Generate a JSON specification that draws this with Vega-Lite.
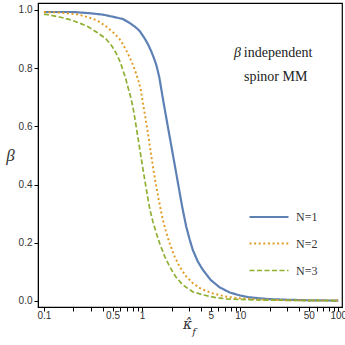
{
  "$schema": "https://vega.github.io/schema/vega-lite/v6.json",
  "width": 304,
  "height": 304,
  "autosize": "none",
  "padding": {"left": 38, "top": 3, "right": 3, "bottom": 38},
  "background": "white",
  "config": {
    "view": {"stroke": "black", "strokeWidth": 1.2},
    "axis": {"grid": false, "domainColor": "black", "tickColor": "black", "labelColor": "#333", "labelFont": "Liberation Sans", "labelFontSize": 10, "labelFlush": false, "tickWidth": 1}
  },
  "datasets": {
    "curves": [
      {"k": 0.1, "beta": 0.993, "N": "N=1"}, {"k": 0.15, "beta": 0.993, "N": "N=1"}, {"k": 0.2, "beta": 0.993, "N": "N=1"}, {"k": 0.29, "beta": 0.989, "N": "N=1"}, {"k": 0.4, "beta": 0.984, "N": "N=1"}, {"k": 0.5, "beta": 0.977, "N": "N=1"}, {"k": 0.637, "beta": 0.969, "N": "N=1"}, {"k": 0.75, "beta": 0.955, "N": "N=1"}, {"k": 0.85, "beta": 0.942, "N": "N=1"}, {"k": 0.944, "beta": 0.928, "N": "N=1"}, {"k": 1.05, "beta": 0.905, "N": "N=1"}, {"k": 1.15, "beta": 0.882, "N": "N=1"}, {"k": 1.24, "beta": 0.858, "N": "N=1"}, {"k": 1.32, "beta": 0.835, "N": "N=1"}, {"k": 1.4, "beta": 0.81, "N": "N=1"}, {"k": 1.5, "beta": 0.768, "N": "N=1"}, {"k": 1.57, "beta": 0.728, "N": "N=1"}, {"k": 1.65, "beta": 0.685, "N": "N=1"}, {"k": 1.74, "beta": 0.641, "N": "N=1"}, {"k": 1.82, "beta": 0.604, "N": "N=1"}, {"k": 1.9, "beta": 0.569, "N": "N=1"}, {"k": 2.05, "beta": 0.507, "N": "N=1"}, {"k": 2.25, "beta": 0.431, "N": "N=1"}, {"k": 2.47, "beta": 0.354, "N": "N=1"}, {"k": 2.6, "beta": 0.313, "N": "N=1"}, {"k": 2.82, "beta": 0.255, "N": "N=1"}, {"k": 3.05, "beta": 0.212, "N": "N=1"}, {"k": 3.29, "beta": 0.175, "N": "N=1"}, {"k": 3.7, "beta": 0.135, "N": "N=1"}, {"k": 4.16, "beta": 0.107, "N": "N=1"}, {"k": 5.0, "beta": 0.072, "N": "N=1"}, {"k": 6.15, "beta": 0.047, "N": "N=1"}, {"k": 7.8, "beta": 0.029, "N": "N=1"}, {"k": 9.85, "beta": 0.019, "N": "N=1"}, {"k": 12, "beta": 0.013, "N": "N=1"}, {"k": 15.7, "beta": 0.009, "N": "N=1"}, {"k": 20, "beta": 0.006, "N": "N=1"}, {"k": 30, "beta": 0.004, "N": "N=1"}, {"k": 50, "beta": 0.002, "N": "N=1"}, {"k": 100, "beta": 0.001, "N": "N=1"},
      {"k": 0.1, "beta": 0.993, "N": "N=2"}, {"k": 0.15, "beta": 0.991, "N": "N=2"}, {"k": 0.22, "beta": 0.985, "N": "N=2"}, {"k": 0.29, "beta": 0.974, "N": "N=2"}, {"k": 0.352, "beta": 0.963, "N": "N=2"}, {"k": 0.431, "beta": 0.943, "N": "N=2"}, {"k": 0.52, "beta": 0.92, "N": "N=2"}, {"k": 0.59, "beta": 0.9, "N": "N=2"}, {"k": 0.65, "beta": 0.877, "N": "N=2"}, {"k": 0.71, "beta": 0.853, "N": "N=2"}, {"k": 0.746, "beta": 0.838, "N": "N=2"}, {"k": 0.81, "beta": 0.81, "N": "N=2"}, {"k": 0.873, "beta": 0.78, "N": "N=2"}, {"k": 0.93, "beta": 0.75, "N": "N=2"}, {"k": 0.973, "beta": 0.724, "N": "N=2"}, {"k": 1.025, "beta": 0.675, "N": "N=2"}, {"k": 1.08, "beta": 0.632, "N": "N=2"}, {"k": 1.15, "beta": 0.574, "N": "N=2"}, {"k": 1.24, "beta": 0.5, "N": "N=2"}, {"k": 1.35, "beta": 0.42, "N": "N=2"}, {"k": 1.48, "beta": 0.347, "N": "N=2"}, {"k": 1.54, "beta": 0.318, "N": "N=2"}, {"k": 1.63, "beta": 0.278, "N": "N=2"}, {"k": 1.75, "beta": 0.24, "N": "N=2"}, {"k": 1.91, "beta": 0.198, "N": "N=2"}, {"k": 2.15, "beta": 0.152, "N": "N=2"}, {"k": 2.41, "beta": 0.118, "N": "N=2"}, {"k": 2.8, "beta": 0.085, "N": "N=2"}, {"k": 3.29, "beta": 0.061, "N": "N=2"}, {"k": 4.0, "beta": 0.041, "N": "N=2"}, {"k": 5.25, "beta": 0.026, "N": "N=2"}, {"k": 7, "beta": 0.015, "N": "N=2"}, {"k": 9.85, "beta": 0.009, "N": "N=2"}, {"k": 15, "beta": 0.005, "N": "N=2"}, {"k": 30, "beta": 0.002, "N": "N=2"}, {"k": 100, "beta": 0.001, "N": "N=2"},
      {"k": 0.1, "beta": 0.986, "N": "N=3"}, {"k": 0.14, "beta": 0.977, "N": "N=3"}, {"k": 0.188, "beta": 0.966, "N": "N=3"}, {"k": 0.235, "beta": 0.954, "N": "N=3"}, {"k": 0.279, "beta": 0.943, "N": "N=3"}, {"k": 0.352, "beta": 0.922, "N": "N=3"}, {"k": 0.43, "beta": 0.9, "N": "N=3"}, {"k": 0.49, "beta": 0.877, "N": "N=3"}, {"k": 0.546, "beta": 0.851, "N": "N=3"}, {"k": 0.6, "beta": 0.82, "N": "N=3"}, {"k": 0.637, "beta": 0.794, "N": "N=3"}, {"k": 0.68, "beta": 0.765, "N": "N=3"}, {"k": 0.716, "beta": 0.736, "N": "N=3"}, {"k": 0.76, "beta": 0.705, "N": "N=3"}, {"k": 0.806, "beta": 0.668, "N": "N=3"}, {"k": 0.88, "beta": 0.59, "N": "N=3"}, {"k": 0.97, "beta": 0.5, "N": "N=3"}, {"k": 1.06, "beta": 0.42, "N": "N=3"}, {"k": 1.15, "beta": 0.35, "N": "N=3"}, {"k": 1.2, "beta": 0.315, "N": "N=3"}, {"k": 1.29, "beta": 0.272, "N": "N=3"}, {"k": 1.4, "beta": 0.232, "N": "N=3"}, {"k": 1.51, "beta": 0.198, "N": "N=3"}, {"k": 1.7, "beta": 0.153, "N": "N=3"}, {"k": 1.91, "beta": 0.118, "N": "N=3"}, {"k": 2.2, "beta": 0.083, "N": "N=3"}, {"k": 2.6, "beta": 0.055, "N": "N=3"}, {"k": 3.3, "beta": 0.031, "N": "N=3"}, {"k": 4.16, "beta": 0.021, "N": "N=3"}, {"k": 5.5, "beta": 0.012, "N": "N=3"}, {"k": 7.2, "beta": 0.007, "N": "N=3"}, {"k": 15, "beta": 0.003, "N": "N=3"}, {"k": 30, "beta": 0.002, "N": "N=3"}, {"k": 100, "beta": 0.001, "N": "N=3"}
    ]
  },
  "layer": [
    {
      "data": {"name": "curves"},
      "mark": {"type": "line", "clip": true},
      "encoding": {
        "x": {
          "field": "k", "type": "quantitative",
          "scale": {"type": "log", "domain": [0.087, 109], "nice": false},
          "axis": {
            "orient": "bottom",
            "values": [0.1, 0.2, 0.3, 0.4, 0.5, 0.6, 0.7, 0.8, 0.9, 1, 2, 3, 4, 5, 6, 7, 8, 9, 10, 20, 30, 40, 50, 60, 70, 80, 90, 100],
            "labelExpr": "indexof([0.1,0.5,1,5,10,50,100], datum.value) >= 0 ? '' + datum.value : ''",
            "tickSize": 4,
            "labelPadding": -1,
            "title": "κ̂",
            "titleFont": "DejaVu Serif", "titleFontStyle": "italic", "titleFontSize": 14, "titleFontWeight": "normal", "titleColor": "#333",
            "titleX": 149, "titleY": 21, "titleAlign": "center", "titleBaseline": "alphabetic"
          }
        },
        "y": {
          "field": "beta", "type": "quantitative",
          "scale": {"domain": [-0.021, 1.024], "nice": false, "zero": false},
          "axis": {
            "orient": "left",
            "values": [0, 0.05, 0.1, 0.15, 0.2, 0.25, 0.3, 0.35, 0.4, 0.45, 0.5, 0.55, 0.6, 0.65, 0.7, 0.75, 0.8, 0.85, 0.9, 0.95, 1.0],
            "labelExpr": "abs(datum.value*5 - round(datum.value*5)) < 1e-6 ? format(datum.value, '.1f') : ''",
            "tickSize": 4,
            "labelPadding": 2,
            "title": "β", "titleAngle": 0, "titleFont": "Liberation Serif", "titleFontStyle": "italic", "titleFontSize": 17, "titleFontWeight": "normal", "titleColor": "#333",
            "titleX": -28, "titleY": 152, "titleAlign": "center", "titleBaseline": "middle"
          }
        },
        "color": {
          "field": "N", "type": "nominal",
          "scale": {"domain": ["N=1", "N=2", "N=3"], "range": ["#5E81B5", "#E19C24", "#8FB032"]},
          "legend": {
            "title": null, "orient": "none", "legendX": 210, "legendY": 193,
            "symbolType": "stroke", "symbolSize": 1521, "symbolStrokeWidth": 2,
            "labelFont": "Liberation Serif", "labelFontSize": 12, "labelColor": "#333",
            "rowPadding": -21, "labelOffset": 6
          }
        },
        "strokeDash": {
          "field": "N", "type": "nominal",
          "scale": {"domain": ["N=1", "N=2", "N=3"], "range": [[1, 0], [2, 2.6], [5, 2.5]]},
          "legend": {
            "title": null, "orient": "none", "legendX": 210, "legendY": 193,
            "symbolType": "stroke", "symbolSize": 1521, "symbolStrokeWidth": 2,
            "labelFont": "Liberation Serif", "labelFontSize": 12, "labelColor": "#333",
            "rowPadding": -21, "labelOffset": 6
          }
        },
        "strokeWidth": {
          "field": "N", "type": "nominal",
          "scale": {"domain": ["N=1", "N=2", "N=3"], "range": [2.2, 1.7, 1.7]},
          "legend": null
        }
      }
    },
    {
      "data": {"values": [{"t": "β", "k": 10.2, "beta": 0.837}]},
      "mark": {"type": "text", "font": "Liberation Serif", "fontStyle": "italic", "fontSize": 14, "align": "right", "baseline": "alphabetic", "color": "#222"},
      "encoding": {
        "x": {"field": "k", "type": "quantitative"},
        "y": {"field": "beta", "type": "quantitative"},
        "text": {"field": "t"}
      }
    },
    {
      "data": {"values": [{"t": "independent", "k": 10.9, "beta": 0.837}]},
      "mark": {"type": "text", "font": "Liberation Serif", "fontSize": 14, "align": "left", "baseline": "alphabetic", "color": "#222"},
      "encoding": {
        "x": {"field": "k", "type": "quantitative"},
        "y": {"field": "beta", "type": "quantitative"},
        "text": {"field": "t"}
      }
    },
    {
      "data": {"values": [{"t": "spinor MM", "k": 23, "beta": 0.757}]},
      "mark": {"type": "text", "font": "Liberation Serif", "fontSize": 14, "align": "center", "baseline": "alphabetic", "color": "#222"},
      "encoding": {
        "x": {"field": "k", "type": "quantitative"},
        "y": {"field": "beta", "type": "quantitative"},
        "text": {"field": "t"}
      }
    },
    {
      "data": {"values": [{"t": "f", "k": 3.25, "beta": -0.1065}]},
      "mark": {"type": "text", "font": "DejaVu Serif", "fontStyle": "italic", "fontSize": 10, "align": "left", "baseline": "middle", "color": "#333"},
      "encoding": {
        "x": {"field": "k", "type": "quantitative"},
        "y": {"field": "beta", "type": "quantitative"},
        "text": {"field": "t"}
      }
    }
  ]
}
